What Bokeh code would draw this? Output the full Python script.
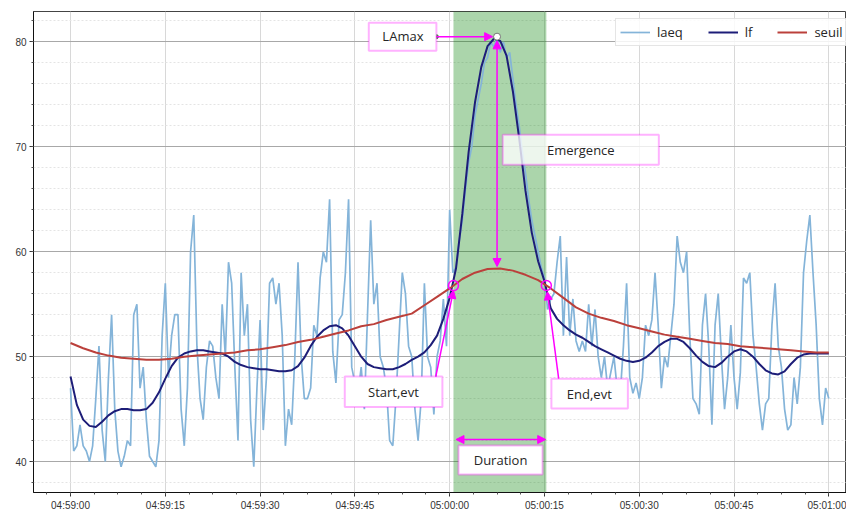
import numpy as np
from bokeh.plotting import figure
from bokeh.models import (Range1d, FixedTicker, BoxAnnotation, Label, Arrow,
                          NormalHead, Legend, LegendItem)
from bokeh.embed import file_html
from bokeh.resources import INLINE

# ---------------- data ----------------
laeq_step = 0.5   # seconds between laeq samples
laeq = [
    47, 41, 41.5, 43.5, 41.5, 41, 40, 41.5, 46, 51,
    43, 40, 48, 54, 45, 41, 39.5, 40.5, 42, 41.5,
    54, 55, 47, 49, 44, 40.5, 40, 39.5, 42, 52,
    57, 48, 52, 54, 54, 45, 41.5, 47, 60, 63.5,
    51, 46, 44, 49, 51.5, 51, 48, 46, 55, 50,
    59, 57, 49, 42, 58, 52, 55, 44, 39.5, 47,
    53.5, 43, 48, 57, 57.5, 55, 57, 52, 41.5, 45,
    43.5, 50, 59, 50, 46, 46, 47, 53, 52, 57.5,
    60, 59, 65, 50.5, 47.5, 53.5, 54, 58, 65, 49,
    47.5, 46.5, 49, 45, 54, 63, 55, 57, 50, 49,
    47, 42, 41.5, 46, 52, 58, 56, 51, 50, 45,
    42, 46, 57, 50, 49, 44.5, 50, 51.5, 55.5, 51,
    64, 58, 58.5, 61, 63, 66, 68.5, 70, 73, 74.5,
    76, 78, 78.5, 80, 79.5, 80.5, 79, 80, 78.5, 79,
    76.5, 74, 72, 69.5, 67.5, 65, 63, 61.5, 60, 58.5,
    57.5, 54.5, 55.5, 56, 59, 61.5, 52, 59.5, 52, 55.5,
    51.5, 50.5, 51.5, 50.5, 55, 51, 54.5, 50, 48, 50,
    47, 48.5, 50, 47, 46.5, 51, 57, 48, 46.5, 47.5,
    46, 48, 53, 52, 53.5, 58, 53, 47, 50, 49,
    52, 55, 61.5, 59, 58, 60, 52, 46, 45.5, 44.5,
    53, 56, 51, 43.5, 53, 56, 50, 45, 48, 53,
    48, 45, 48.5, 57.5, 57, 58, 52, 49, 45.5, 43,
    45.5, 46, 53, 57, 51, 49, 45, 43, 43.5, 48,
    45.5, 49, 58, 61, 63.5, 58, 53, 46, 43.5, 47,
    46,
]

lf_step = 1.0
lf = [
    48.1, 45.4, 44.0, 43.4, 43.3, 43.8, 44.4, 44.8, 45.0, 45.0,
    44.9, 44.9, 45.0, 45.6, 46.6, 47.9, 49.1, 49.9, 50.3, 50.5,
    50.6, 50.6, 50.5, 50.4, 50.3, 50.0, 49.5, 49.2, 49.0, 48.9,
    48.8, 48.8, 48.7, 48.6, 48.6, 48.7, 49.1, 49.9, 51.0, 51.9,
    52.5, 52.9, 53.0, 52.7, 52.0, 51.0, 50.0, 49.3, 49.0, 48.9,
    48.8, 48.8, 49.0, 49.3, 49.7, 50.0, 50.4, 51.1, 52.0, 53.6,
    55.6, 58.4, 63.6, 69.5, 74.2, 77.6, 79.6, 80.3, 80.1, 78.7,
    75.3, 70.8, 65.8, 61.8, 59.1, 57.2, 54.6, 53.6, 53.0, 52.5,
    52.1, 51.8, 51.4, 51.0, 50.7, 50.4, 50.1, 49.8, 49.6, 49.5,
    49.6, 49.9, 50.4, 51.0, 51.4, 51.7, 51.7, 51.4, 50.8, 50.1,
    49.5, 49.1, 49.0, 49.4, 50.0, 50.5, 50.7, 50.5, 50.0, 49.3,
    48.7, 48.4, 48.3, 48.6, 49.3, 49.9, 50.2, 50.3, 50.3, 50.3,
    50.3,
]

seuil_step = 2.0
seuil = [
    51.3, 50.8, 50.4, 50.1, 49.9, 49.8, 49.7, 49.7, 49.8, 50.0,
    50.1, 50.2, 50.3, 50.4, 50.6, 50.7, 50.9, 51.1, 51.4, 51.6,
    51.9, 52.2, 52.5, 52.9, 53.1, 53.5, 53.8, 54.1, 54.9, 55.7,
    56.5, 57.4, 58.0, 58.35, 58.4, 58.2, 57.8, 57.3, 56.5, 55.6,
    54.7, 54.1, 53.7, 53.4, 53.0, 52.7, 52.4, 52.1, 51.9, 51.7,
    51.5, 51.3, 51.2, 51.0, 50.9, 50.8, 50.7, 50.6, 50.5, 50.4,
    50.4,
]

tick_seconds = [0, 15, 30, 45, 60, 75, 90, 105, 120]
tick_labels = ["04:59:00", "04:59:15", "04:59:30", "04:59:45", "05:00:00",
               "05:00:15", "05:00:30", "05:00:45", "05:01:00"]
y_ticks = [40, 50, 60, 70, 80]

event_start = 60.6   # seconds after 04:59:00
event_end = 75.3

# ---------------- derived ----------------
t_laeq = np.arange(len(laeq)) * laeq_step
t_lf = np.arange(len(lf)) * lf_step
t_seuil = np.arange(len(seuil)) * seuil_step
imax = int(np.argmax(laeq))
t_max, lamax = t_laeq[imax], laeq[imax]
seuil_at = lambda t: float(np.interp(t, t_seuil, seuil))

MAG = "#ff00ff"
FONT = "Open Sans"

p = figure(width=846, height=513, output_backend="svg", toolbar_location=None,
           x_range=Range1d(-5.86, 122.8), y_range=Range1d(37.05, 82.9),
           min_border_left=33, min_border_top=11, min_border_right=0,
           min_border_bottom=20, background_fill_color="white",
           border_fill_color="white")
p.outline_line_color = "#444444"

# axes
p.xaxis.ticker = FixedTicker(ticks=tick_seconds,
                             minor_ticks=list(np.arange(-3.75, 123, 3.75)))
p.xaxis.major_label_overrides = {k: v for k, v in zip(tick_seconds, tick_labels)}
p.yaxis.ticker = FixedTicker(ticks=y_ticks, minor_ticks=list(range(36, 84, 2)))
for ax in (p.xaxis[0], p.yaxis[0]):
    ax.major_label_text_font = "Liberation Sans"
    ax.major_label_text_font_size = "10px"
    ax.major_label_text_color = "#333333"
    ax.axis_line_color = "#111111"
    ax.major_tick_out = 4
    ax.major_tick_in = 0
    ax.minor_tick_out = 2
    ax.minor_tick_in = 0
    ax.major_tick_line_color = "#333333"
    ax.minor_tick_line_color = "#555555"
    ax.major_label_standoff = 3

p.xgrid.ticker = FixedTicker(ticks=tick_seconds)
p.xgrid.grid_line_color = "#d8d8d8"
p.ygrid.ticker = FixedTicker(ticks=y_ticks, minor_ticks=list(range(36, 84, 2)))
p.ygrid.grid_line_color = "#a8a8a8"
p.ygrid.minor_grid_line_color = "#e4e4e4"
p.ygrid.minor_grid_line_dash = "2 2"

# event span
p.add_layout(BoxAnnotation(left=event_start, right=event_end, fill_color="green",
                           fill_alpha=0.33, line_alpha=0, level="underlay"))

# series
r1 = p.line(t_laeq, laeq, line_color="#84b4d9", line_width=1.7)
r2 = p.line(t_lf, lf, line_color="#1d1d78", line_width=2)
r3 = p.line(t_seuil, seuil, line_color="#bb403b", line_width=2)

legend = Legend(items=[LegendItem(label="laeq", renderers=[r1]),
                       LegendItem(label="lf", renderers=[r2]),
                       LegendItem(label="seuil", renderers=[r3])],
                orientation="horizontal", location=(582, 446),
                label_text_font=FONT, label_text_font_size="13px",
                label_text_color="#262626", label_width=0,
                glyph_width=30, glyph_height=16, label_height=16,
                label_standoff=7, spacing=25, padding=4, margin=0,
                border_line_color="#cccccc", background_fill_alpha=0.85)
p.add_layout(legend)


def box(l, r, b, t, alpha=1.0):
    p.add_layout(BoxAnnotation(left=l, right=r, bottom=b, top=t,
                               fill_color="white", fill_alpha=alpha,
                               line_color=MAG, line_width=2))


def label(x, y, txt):
    p.add_layout(Label(x=x, y=y, text=txt, text_align="center",
                       text_baseline="middle", text_font=FONT,
                       text_font_size="13px", text_color="#262626"))


def arrow(x0, y0, x1, y1, both=False):
    head = lambda: NormalHead(size=8, fill_color=MAG, line_color=MAG)
    p.add_layout(Arrow(x_start=x0, y_start=y0, x_end=x1, y_end=y1,
                       end=head(), start=head() if both else None,
                       line_color=MAG, line_width=1.5))


# LAmax
box(47.2, 57.9, lamax - 1.33, lamax + 1.33)
label(52.6, lamax + 0.05, "LAmax")
p.segment(x0=[50.2], y0=[lamax - 0.55], x1=[55.0], y1=[lamax - 0.55],
          line_color="#e04040", line_width=1, line_dash="1 1")
arrow(57.9, lamax, t_max - 0.7, lamax)
p.scatter([57.9], [lamax], size=4, color="#2e8b2e")

# Emergence
arrow(t_max, seuil_at(t_max) + 0.2, t_max, lamax - 0.4, both=True)
box(68.4, 93.1, 68.3, 71.15, alpha=0.78)
label(80.75, 69.72, "Emergence")

# start / end of event
p.scatter([event_start, event_end], [seuil_at(event_start), seuil_at(event_end)],
          marker="circle", size=10, fill_alpha=0, line_color=MAG, line_width=1.5)
p.scatter([t_max], [lamax], marker="circle", size=7, fill_color="white",
          line_color="#777777", line_width=1)

box(43.4, 58.85, 45.2, 48.1)
label(51.1, 46.65, "Start,evt")
p.segment(x0=[47.2], y0=[45.95], x1=[53.6], y1=[45.95],
          line_color="#e04040", line_width=1, line_dash="1 1")
arrow(57.8, 48.1, event_start, seuil_at(event_start) - 0.45)

box(76.1, 88.2, 45.05, 47.9)
label(82.1, 46.45, "End,evt")
p.segment(x0=[79.3], y0=[45.75], x1=[85.2], y1=[45.75],
          line_color="#e04040", line_width=1, line_dash="1 1")
arrow(77.25, 47.9, event_end + 0.15, seuil_at(event_end) - 0.6)

# duration
arrow(event_start + 0.4, 42.1, event_end - 0.1, 42.1, both=True)
box(61.4, 74.7, 38.76, 41.52)
label(68.05, 40.15, "Duration")

open("out.html", "w").write(file_html(p, INLINE))
